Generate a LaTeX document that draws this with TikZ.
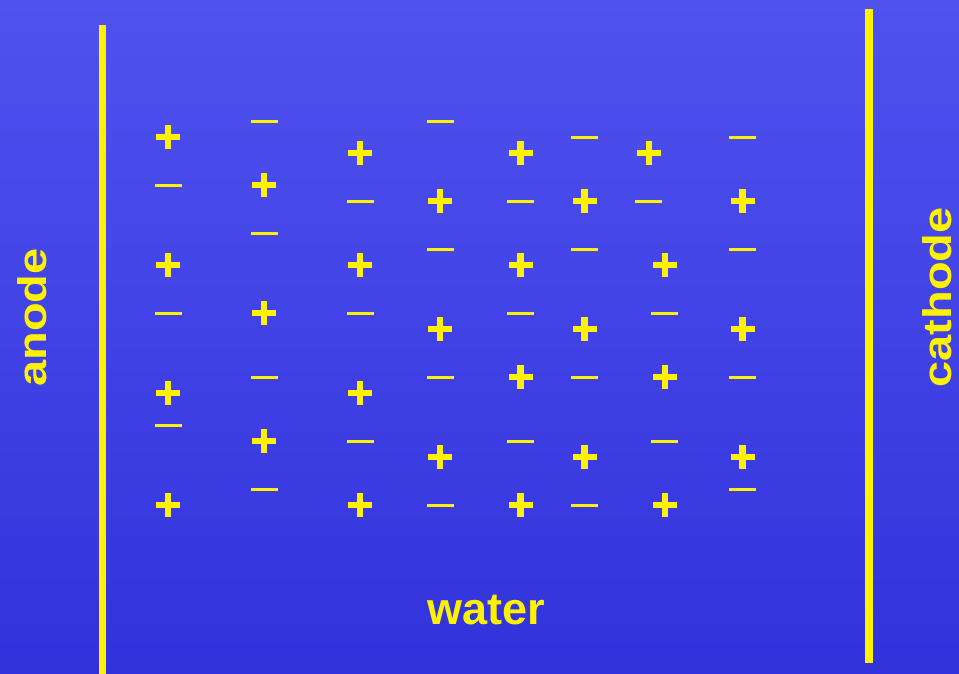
\documentclass[tikz,border=0pt]{standalone}
\usepackage{fontspec}
\setmainfont{Liberation Sans}
\begin{document}
\begin{tikzpicture}[x=1pt,y=-1pt,
  ioncol/.style={fill=yellow},
  electrode/.style={fill=yellow},
  lbl/.style={text=yellow,inner sep=0pt,font=\bfseries\fontsize{47}{47}\selectfont},
  ionplus/.pic={\fill[ioncol] (-12,-3.1) rectangle (12,3.1); \fill[ioncol] (-3.1,-12) rectangle (3.1,12);},
  ionminus/.pic={\fill[ioncol] (-13.5,-1.25) rectangle (13.5,1.25);}]
\useasboundingbox (0,0) rectangle (959,674);
\shade[top color={rgb,255:red,80;green,82;blue,238},bottom color={rgb,255:red,50;green,50;blue,220}] (0,0) rectangle (959,674);
% electrodes
\fill[electrode] (98.8,25) rectangle (106.2,674);
\fill[electrode] (865,9) rectangle (872.5,662.5);
% positive ions
\foreach \x/\y in {168/137,168/265,168/393,168/505,
  264/185,264/313,264/441,
  360/153,360/265,360/393,360/505,
  440/201,440/329,440/457,
  520.5/153,520.5/265,520.5/377,520.5/505,
  584.5/201,584.5/329,584.5/457,
  648.7/153,664.7/265,664.7/377,664.7/505,
  742.5/201,742.5/329,742.5/457}
  \pic at (\x,\y) {ionplus};
% negative ions
\foreach \x/\y in {168/185.5,168/313.3,168/425.7,
  264/121.3,264/233.3,264/377.3,264/489.3,
  360/201.3,360/313.3,360/441.3,
  440/121.3,440/249.7,440/377.3,440/505.3,
  520/201.3,520/313.3,520/441.3,
  584/137.3,584/249.7,584/377.3,584/505.3,
  648/201.3,664/313.3,664/441.3,
  742/137.3,742/249.7,742/377.3,742/489.7}
  \pic at (\x,\y) {ionminus};
% labels
\node[lbl,rotate=90,yscale=0.85,anchor=base] (anode) at (46.5,317.5) {anode};
\node[lbl,rotate=90,yscale=0.85,anchor=base] (cathode) at (951.5,297.5) {cathode};
\node[lbl,anchor=base,font=\bfseries\fontsize{45}{45}\selectfont] (water) at (486,624) {water};
\end{tikzpicture}
\end{document}
